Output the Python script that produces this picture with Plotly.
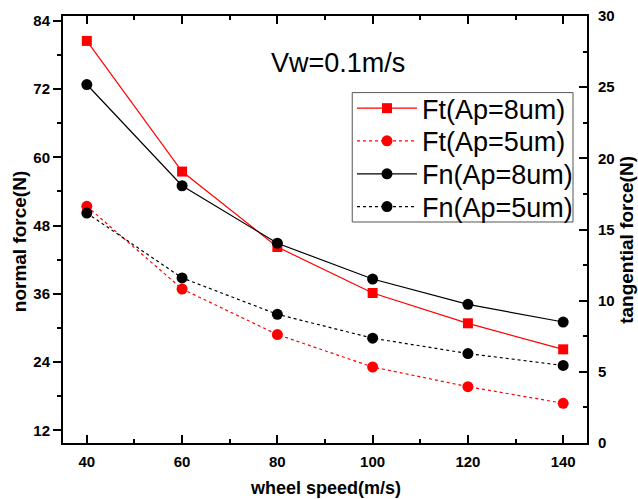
import plotly.graph_objects as go

# wheel speed (m/s)
wheel_speed = [40, 60, 80, 100, 120, 140]

# tangential force (N), right axis
ft_ap8 = [28.25, 19.07, 13.77, 10.54, 8.41, 6.58]
ft_ap5 = [16.63, 10.82, 7.62, 5.34, 3.96, 2.79]

# normal force (N), left axis
fn_ap8 = [72.8, 55.0, 44.9, 38.6, 34.15, 31.04]
fn_ap5 = [50.2, 38.8, 32.4, 28.2, 25.5, 23.4]

left_ticks = [12, 24, 36, 48, 60, 72, 84]
right_ticks = [0, 5, 10, 15, 20, 25, 30]

FONT = "Liberation Sans, Arial, sans-serif"
RED = "#ff0000"
BLACK = "#000000"

fig = go.Figure()

# each series gets its own one-row legend so the rows can be spaced tightly
fig.add_trace(go.Scatter(
    x=wheel_speed, y=ft_ap8, name="Ft(Ap=8um)", yaxis="y", legend="legend",
    mode="lines+markers",
    line=dict(color=RED, width=1.2),
    marker=dict(symbol="square", size=10, color=RED),
))
fig.add_trace(go.Scatter(
    x=wheel_speed, y=ft_ap5, name="Ft(Ap=5um)", yaxis="y", legend="legend2",
    mode="lines+markers",
    line=dict(color=RED, width=1.2, dash="dot"),
    marker=dict(symbol="circle", size=11, color=RED),
))
fig.add_trace(go.Scatter(
    x=wheel_speed, y=fn_ap8, name="Fn(Ap=8um)", yaxis="y2", legend="legend3",
    mode="lines+markers",
    line=dict(color=BLACK, width=1.2),
    marker=dict(symbol="circle", size=11, color=BLACK),
))
fig.add_trace(go.Scatter(
    x=wheel_speed, y=fn_ap5, name="Fn(Ap=5um)", yaxis="y2", legend="legend4",
    mode="lines+markers",
    line=dict(color=BLACK, width=1.2, dash="dot"),
    marker=dict(symbol="circle", size=11, color=BLACK),
))

tickfont = dict(family=FONT, size=15, color="black", weight="bold")


def legend_row(y):
    return dict(
        x=0.5515, y=y, xanchor="left", yanchor="middle",
        bgcolor="rgba(0,0,0,0)", borderwidth=0,
        font=dict(family=FONT, size=27, color="black"),
        itemwidth=60,
    )


fig.update_layout(
    width=638, height=499,
    margin=dict(l=63, r=51, t=16, b=56, autoexpand=False),
    paper_bgcolor="white", plot_bgcolor="white",
    showlegend=True,
    xaxis=dict(
        range=[35, 145], tick0=0, dtick=20,
        ticks="inside", ticklen=8, tickwidth=1.5, tickcolor="black",
        minor=dict(dtick=10, ticks="inside", ticklen=4, tickwidth=1.5, tickcolor="black"),
        showline=True, linewidth=2, linecolor="black", mirror="ticks",
        showgrid=False, zeroline=False, automargin=False,
        tickfont=tickfont, ticklabelstandoff=4,
    ),
    yaxis=dict(
        side="right", range=[0, 30], tickvals=right_ticks,
        ticks="inside", ticklen=8, tickwidth=1.5, tickcolor="black",
        minor=dict(dtick=2.5, tick0=0, ticks="inside", ticklen=4, tickwidth=1.5, tickcolor="black"),
        showline=True, linewidth=2, linecolor="black",
        showgrid=False, zeroline=False, automargin=False,
        tickfont=tickfont, ticklabelstandoff=6,
    ),
    yaxis2=dict(
        overlaying="y", side="left", range=[9.77, 84.85],
        tickvals=left_ticks,
        ticks="outside", ticklen=8, tickwidth=1.5, tickcolor="black",
        minor=dict(dtick=6, tick0=0, ticks="outside", ticklen=4, tickwidth=1.5, tickcolor="black"),
        showline=True, linewidth=2, linecolor="black",
        showgrid=False, zeroline=False, automargin=False,
        tickfont=tickfont,
    ),
    legend=legend_row(0.7831),
    legend2=legend_row(0.7066),
    legend3=legend_row(0.6293),
    legend4=legend_row(0.5527),
    shapes=[
        # frame around the legend rows
        dict(type="rect", xref="paper", yref="paper",
             x0=0.552, x1=0.9733, y0=0.5176, y1=0.8206,
             line=dict(color="#555555", width=1), fillcolor="white", layer="below"),
    ],
    annotations=[
        dict(text="wheel speed(m/s)", x=0.5, y=-0.106, xref="paper", yref="paper",
             xanchor="center", yanchor="middle", showarrow=False,
             font=dict(family=FONT, size=18, color="black", weight="bold")),
        dict(text="normal force(N)", x=-0.0814, y=0.471, xref="paper", yref="paper",
             xanchor="center", yanchor="middle", showarrow=False, textangle=-90,
             font=dict(family=FONT, size=19, color="black", weight="bold")),
        dict(text="tangential force(N)", x=1.0755, y=0.4747, xref="paper", yref="paper",
             xanchor="center", yanchor="middle", showarrow=False, textangle=-90,
             font=dict(family=FONT, size=19, color="black", weight="bold")),
        dict(text="Vw=0.1m/s", x=0.524, y=0.889, xref="paper", yref="paper",
             xanchor="center", yanchor="middle", showarrow=False,
             font=dict(family=FONT, size=27, color="black")),
    ],
)

fig.write_html("out.html")
